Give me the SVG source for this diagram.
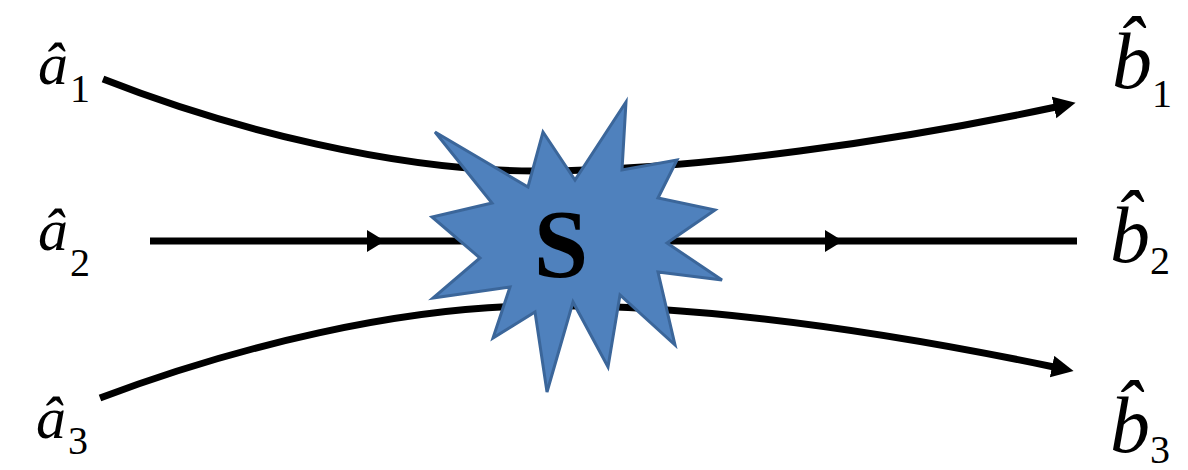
<svg xmlns="http://www.w3.org/2000/svg" width="1188" height="470" viewBox="0 0 1188 470">
<defs>
<style>
.ln{fill:none;stroke:#000;stroke-width:7}
</style>
<marker id="endA" markerUnits="userSpaceOnUse" markerWidth="24" markerHeight="24" refX="2" refY="11" orient="auto">
<path d="M0,0 L22,11 L0,22 Z" fill="#000"/>
</marker>
<marker id="midA" markerUnits="userSpaceOnUse" markerWidth="20" markerHeight="24" refX="9" refY="11" orient="auto">
<path d="M0,0 L18,11 L0,22 Z" fill="#000"/>
</marker>
</defs>
<rect width="1188" height="470" fill="#fff"/>
<g id="connectors">
<path class="ln" d="M103,79 C230,129 400,172 540,171 C700,170 900,140 1056,107" marker-end="url(#endA)"/>
<path class="ln" d="M150,241 L376,241 L834,241 L1077,241" marker-mid="url(#midA)"/>
<path class="ln" d="M100,398 C240,345 400,308 530,306 C700,303 900,335 1054,367" marker-end="url(#endA)"/>
</g>
<g id="node-S">
<polygon points="435,132 528,187 543,132 575,180 626,102 622,170 677,160 658,198 715,210 667,243 722,280 658,272 675,345 620,295 608,367 573,302 547,392 535,312 493,338 510,287 433,298 480,258 432,217 492,203" fill="#4F81BD" stroke="#3B669A" stroke-width="3"/>
<text x="561" y="277" font-family="Liberation Serif, Times New Roman, serif" font-weight="bold" font-size="98" text-anchor="middle" fill="#000">S</text>
</g>
<g id="node-a1">
<text x="38" y="84" font-family="Liberation Serif, serif" fill="#000"><tspan font-size="60" font-style="italic">â</tspan><tspan font-size="40" dx="2" dy="18">1</tspan></text>
</g>
<g id="node-a2">
<text x="38" y="250" font-family="Liberation Serif, serif" fill="#000"><tspan font-size="60" font-style="italic">â</tspan><tspan font-size="40" dx="2" dy="26">2</tspan></text>
</g>
<g id="node-a3">
<text x="36" y="438" font-family="Liberation Serif, serif" fill="#000"><tspan font-size="60" font-style="italic">â</tspan><tspan font-size="40" dx="2" dy="16">3</tspan></text>
</g>
<g id="node-b1">
<text x="1112" y="88" font-family="Liberation Serif, serif" fill="#000"><tspan font-size="80" font-style="italic">b̂</tspan><tspan font-size="40" dx="0" dy="19">1</tspan></text>
</g>
<g id="node-b2">
<text x="1110" y="262" font-family="Liberation Serif, serif" fill="#000"><tspan font-size="80" font-style="italic">b̂</tspan><tspan font-size="40" dx="0" dy="12">2</tspan></text>
</g>
<g id="node-b3">
<text x="1110" y="452" font-family="Liberation Serif, serif" fill="#000"><tspan font-size="80" font-style="italic">b̂</tspan><tspan font-size="40" dx="0" dy="11">3</tspan></text>
</g>
</svg>
